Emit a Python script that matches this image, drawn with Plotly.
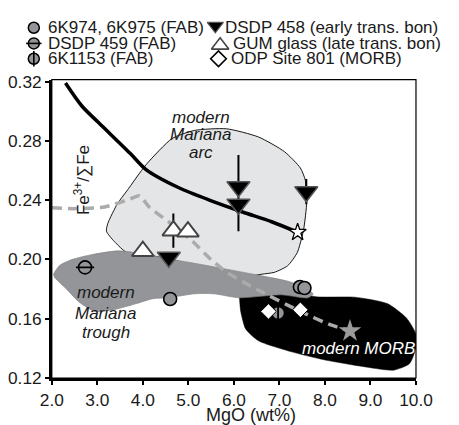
import plotly.graph_objects as go

FONT = "Liberation Sans, Arial, sans-serif"
GRAY = "#939598"
LIGHT = "#e4e5e7"

# ---------------- data ----------------
fab_x = [4.60, 7.45, 7.55]            # 6K974, 6K975 (FAB)
fab_y = [0.1733, 0.1814, 0.1807]
dsdp459_x = [2.73]
dsdp459_y = [0.1946]
k1153_x = [6.97]
k1153_y = [0.1638]
dsdp458_x = [4.57, 6.10, 6.10, 7.59]
dsdp458_y = [0.2015, 0.2490, 0.2372, 0.2457]
dsdp458_err_plus = [0.0, 0.0215, 0.0, 0.0085]
dsdp458_err_minus = [0.0, 0.0300, 0.0, 0.0085]
gum_x = [4.00, 4.67, 4.99]
gum_y = [0.2055, 0.2194, 0.2187]
gum_err = [0.0, 0.0115, 0.0]
odp_x = [6.76, 7.46]
odp_y = [0.1649, 0.1660]
white_star_x = [7.40]
white_star_y = [0.2183]
gray_star_x = [8.55]
gray_star_y = [0.1517]

curve_x = [2.30, 2.66, 3.02, 3.72, 4.07, 4.78, 5.49, 6.19, 6.83, 7.40]
curve_y = [0.3190, 0.3035, 0.2925, 0.2716, 0.2606, 0.2485, 0.2397, 0.2320, 0.2254, 0.2183]

dash_x = [2.00, 2.45, 3.16, 3.72, 3.93, 4.14, 4.71, 5.13, 5.49, 5.84, 6.54, 7.46, 8.10, 8.55]
dash_y = [0.2349, 0.2342, 0.2353, 0.2408, 0.2430, 0.2353, 0.2221, 0.2111, 0.2001, 0.1913, 0.1792, 0.1649, 0.1561, 0.1517]

arc_x = [3.65, 3.37, 3.20, 3.23, 3.44, 3.65, 4.07, 4.64, 5.13, 5.84, 6.54, 7.11, 7.46, 7.57,
         7.60, 7.53, 7.39, 7.18, 6.89, 6.61, 6.19, 5.77, 5.56, 4.71, 4.07, 3.65]
arc_y = [0.2045, 0.2122, 0.2190, 0.2243, 0.2375, 0.2463, 0.2639, 0.2815, 0.2870, 0.2881, 0.2826,
         0.2727, 0.2617, 0.2533, 0.2388, 0.2199, 0.2045, 0.1957, 0.1913, 0.1900, 0.1880, 0.1891,
         0.1913, 0.1992, 0.2032, 0.2045]

trough_x = [2.04, 2.17, 2.44, 2.87, 3.44, 3.86, 4.56, 5.28, 5.98, 6.55, 7.25, 7.74, 7.63, 7.04,
            6.11, 5.56, 5.13, 4.56, 4.22, 3.86, 3.38, 2.95, 2.59, 2.32, 2.06, 2.04]
trough_y = [0.1900, 0.1959, 0.1999, 0.2032, 0.2058, 0.2045, 0.2005, 0.1966, 0.1926, 0.1893,
            0.1847, 0.1768, 0.1741, 0.1761, 0.1741, 0.1768, 0.1768, 0.1741, 0.1735, 0.1702,
            0.1662, 0.1649, 0.1715, 0.1801, 0.1880, 0.1900]

morb_x = [6.12, 6.54, 7.25, 7.81, 8.66, 9.37, 9.79, 10.0, 10.0, 9.86, 9.51, 8.80, 7.95, 7.25,
          6.54, 6.26, 6.15, 6.12, 6.12]
morb_y = [0.1787, 0.1807, 0.1787, 0.1748, 0.1745, 0.1702, 0.1605, 0.1495, 0.1407, 0.1297,
          0.1253, 0.1279, 0.1325, 0.1378, 0.1451, 0.1530, 0.1649, 0.1759, 0.1787]

x_ticks = [2.0, 3.0, 4.0, 5.0, 6.0, 7.0, 8.0, 9.0, 10.0]
x_ticktext = ["2.0", "3.0", "4.0", "5.0", "6.0", "7.0", "8.0", "9.0", "10.0"]
y_ticks = [0.12, 0.16, 0.20, 0.24, 0.28, 0.32]
y_ticktext = ["0.12", "0.16", "0.20", "0.24", "0.28", "0.32"]
x_title = "MgO (wt%)"
y_title = "Fe<sup>3+</sup>/∑Fe"

legend_labels = ["6K974, 6K975 (FAB)", "DSDP 459 (FAB)", "6K1153 (FAB)",
                 "DSDP 458 (early trans. bon)", "GUM glass (late trans. bon)", "ODP Site 801 (MORB)"]
# legend key layout (legend axis is in page-pixel units)
leg_row_y = [20, 36, 51.7]
leg_col1_sym_x = 33.3
leg_col1_txt_x = 45.5
leg_col2_sym_x = [221.7, 226.7, 225.0]
leg_col2_txt_x = [230.0, 237.5, 235.5]

fig = go.Figure()

def add(tr):
    fig.add_trace(tr)

# regions
add(go.Scatter(x=arc_x, y=arc_y, mode="lines", fill="toself", fillcolor=LIGHT,
               line=dict(color="black", width=0.9, shape="spline", smoothing=0.6), hoverinfo="skip"))
add(go.Scatter(x=morb_x, y=morb_y, mode="lines", fill="toself", fillcolor="black",
               line=dict(color="black", width=0.5, shape="spline", smoothing=0.6), hoverinfo="skip"))
add(go.Scatter(x=trough_x, y=trough_y, mode="lines", fill="toself", fillcolor=GRAY,
               line=dict(color="#7a7b7e", width=0.6, shape="spline", smoothing=0.6), hoverinfo="skip"))

# lines
add(go.Scatter(x=dash_x, y=dash_y, mode="lines",
               line=dict(color="#ababab", width=3.5, dash="10px,6px", shape="spline", smoothing=0.5)))
add(go.Scatter(x=curve_x, y=curve_y, mode="lines",
               line=dict(color="black", width=3.5, shape="spline", smoothing=0.8)))

# markers
add(go.Scatter(x=white_star_x, y=white_star_y, mode="markers",
               marker=dict(symbol="star", size=13, color="white", line=dict(color="black", width=1.3))))
add(go.Scatter(x=gray_star_x, y=gray_star_y, mode="markers",
               marker=dict(symbol="star", size=17, color="#9a9a9a", line=dict(width=0))))
add(go.Scatter(x=fab_x, y=fab_y, mode="markers",
               marker=dict(symbol="circle", size=13, color=GRAY, line=dict(color="black", width=1.6))))
add(go.Scatter(x=dsdp459_x, y=dsdp459_y, mode="markers",
               marker=dict(symbol="circle", size=13, color=GRAY, line=dict(color="black", width=1.6))))
add(go.Scatter(x=dsdp459_x, y=dsdp459_y, mode="markers",
               marker=dict(symbol="line-ew", size=13, line=dict(color="black", width=1.8))))
add(go.Scatter(x=k1153_x, y=k1153_y, mode="markers",
               marker=dict(symbol="circle", size=13, color=GRAY, line=dict(color="black", width=1.6))))
add(go.Scatter(x=k1153_x, y=k1153_y, mode="markers",
               marker=dict(symbol="line-ns", size=13, line=dict(color="black", width=1.8))))
add(go.Scatter(x=odp_x, y=odp_y, mode="markers",
               marker=dict(symbol="diamond", size=12, color="white", line=dict(color="black", width=1))))
add(go.Scatter(x=dsdp458_x, y=dsdp458_y, mode="markers",
               error_y=dict(type="data", array=dsdp458_err_plus, arrayminus=dsdp458_err_minus,
                            symmetric=False, color="black", thickness=2, width=0),
               marker=dict(symbol="triangle-down", size=20, color="black", line=dict(color="#555", width=1.5))))
add(go.Scatter(x=gum_x, y=gum_y, mode="markers",
               error_y=dict(type="data", array=gum_err, color="black", thickness=2, width=0),
               marker=dict(symbol="triangle-up", size=19, color="white", line=dict(color="#444", width=2))))

# ---------------- legend (separate pixel-unit axes) ----------------
def lkey(x, y, **m):
    add(go.Scatter(x=[x], y=[y], mode="markers", xaxis="x2", yaxis="y2", cliponaxis=False, marker=m))

lkey(leg_col1_sym_x, leg_row_y[0], symbol="circle", size=11, color=GRAY, line=dict(color="black", width=1.5))
lkey(leg_col1_sym_x, leg_row_y[1], symbol="circle", size=11, color=GRAY, line=dict(color="black", width=1.5))
lkey(leg_col1_sym_x, leg_row_y[1], symbol="line-ew", size=11, line=dict(color="black", width=1.6))
lkey(leg_col1_sym_x, leg_row_y[2], symbol="circle", size=11, color=GRAY, line=dict(color="black", width=1.5))
lkey(leg_col1_sym_x, leg_row_y[2], symbol="line-ns", size=11, line=dict(color="black", width=1.6))
lkey(leg_col2_sym_x[0], leg_row_y[0] - 2, symbol="triangle-down", size=14, color="black", line=dict(color="#555", width=1.2))
lkey(leg_col2_sym_x[1], leg_row_y[1] + 2, symbol="triangle-up", size=15, color="white", line=dict(color="#444", width=1.6))
lkey(leg_col2_sym_x[2], leg_row_y[2], symbol="diamond", size=12, color="white", line=dict(color="black", width=1.6))

annotations = []
for i in range(3):
    annotations.append(dict(x=leg_col1_txt_x, y=leg_row_y[i], xref="x2", yref="y2", text=legend_labels[i],
                            showarrow=False, xanchor="left", yanchor="middle",
                            font=dict(size=17, color="#1a1a1a", family=FONT)))
    annotations.append(dict(x=leg_col2_txt_x[i], y=leg_row_y[i], xref="x2", yref="y2", text=legend_labels[3 + i],
                            showarrow=False, xanchor="left", yanchor="middle",
                            font=dict(size=17, color="#1a1a1a", family=FONT)))

# region labels
arc_lbl = ["modern", "Mariana", "arc"]
arc_lbl_y = [0.2958, 0.2842, 0.2723]
trough_lbl = ["modern", "Mariana", "trough"]
trough_lbl_y = [0.1776, 0.1638, 0.1506]
for t, yy in zip(arc_lbl, arc_lbl_y):
    annotations.append(dict(x=5.27, y=yy, text="<i>%s</i>" % t, showarrow=False,
                            font=dict(size=17, color="#1a1a1a", family=FONT)))
for t, yy in zip(trough_lbl, trough_lbl_y):
    annotations.append(dict(x=3.19, y=yy, text="<i>%s</i>" % t, showarrow=False,
                            font=dict(size=17, color="#1a1a1a", family=FONT)))
annotations.append(dict(x=8.73, y=0.1402, text="<i>modern MORB</i>", showarrow=False,
                        font=dict(size=17, color="white", family=FONT)))
# axis titles
annotations.append(dict(x=0.049, y=0.786, xref="x domain", yref="y domain", text=y_title,
                        textangle=-90, showarrow=False, font=dict(size=17, color="#1a1a1a", family=FONT)))
annotations.append(dict(x=0.5476, y=-0.1027, xref="x domain", yref="paper", text=x_title,
                        showarrow=False, xanchor="center", yanchor="middle",
                        font=dict(size=18, color="#1a1a1a", family=FONT)))

# the page body has an 8px margin, so the figure is sized/offset to compensate
fig.update_layout(
    width=451, height=417,
    margin=dict(l=12, r=2, t=0, b=47, pad=0),
    paper_bgcolor="white", plot_bgcolor="white",
    showlegend=False,
    font=dict(family=FONT, size=17, color="#1a1a1a"),
    xaxis=dict(domain=[0.0732, 0.9382], range=[2, 10], tickvals=x_ticks, ticktext=x_ticktext,
               ticks="outside", ticklen=4, tickwidth=1.5, tickcolor="black",
               showline=True, linewidth=2.5, linecolor="black", showgrid=False, zeroline=False,
               tickfont=dict(size=17.3, color="#1a1a1a")),
    yaxis=dict(domain=[0, 0.8243], range=[0.12, 0.3213], tickvals=y_ticks, ticktext=y_ticktext,
               ticks="outside", ticklen=4, tickwidth=1.5, tickcolor="black",
               showline=True, linewidth=2.5, linecolor="black", showgrid=False, zeroline=False,
               tickfont=dict(size=17.3, color="#1a1a1a")),
    xaxis2=dict(domain=[0, 1], range=[20, 457], anchor="y2", visible=False, fixedrange=True),
    yaxis2=dict(domain=[0.8243, 1], range=[73, 8], anchor="x2", visible=False, fixedrange=True),
    annotations=annotations,
    shapes=[dict(type="rect", xref="x domain", yref="y domain", x0=0, x1=1, y0=0, y1=1,
                 line=dict(color="black", width=1.2), layer="above")],
)

fig.write_html("out.html")
